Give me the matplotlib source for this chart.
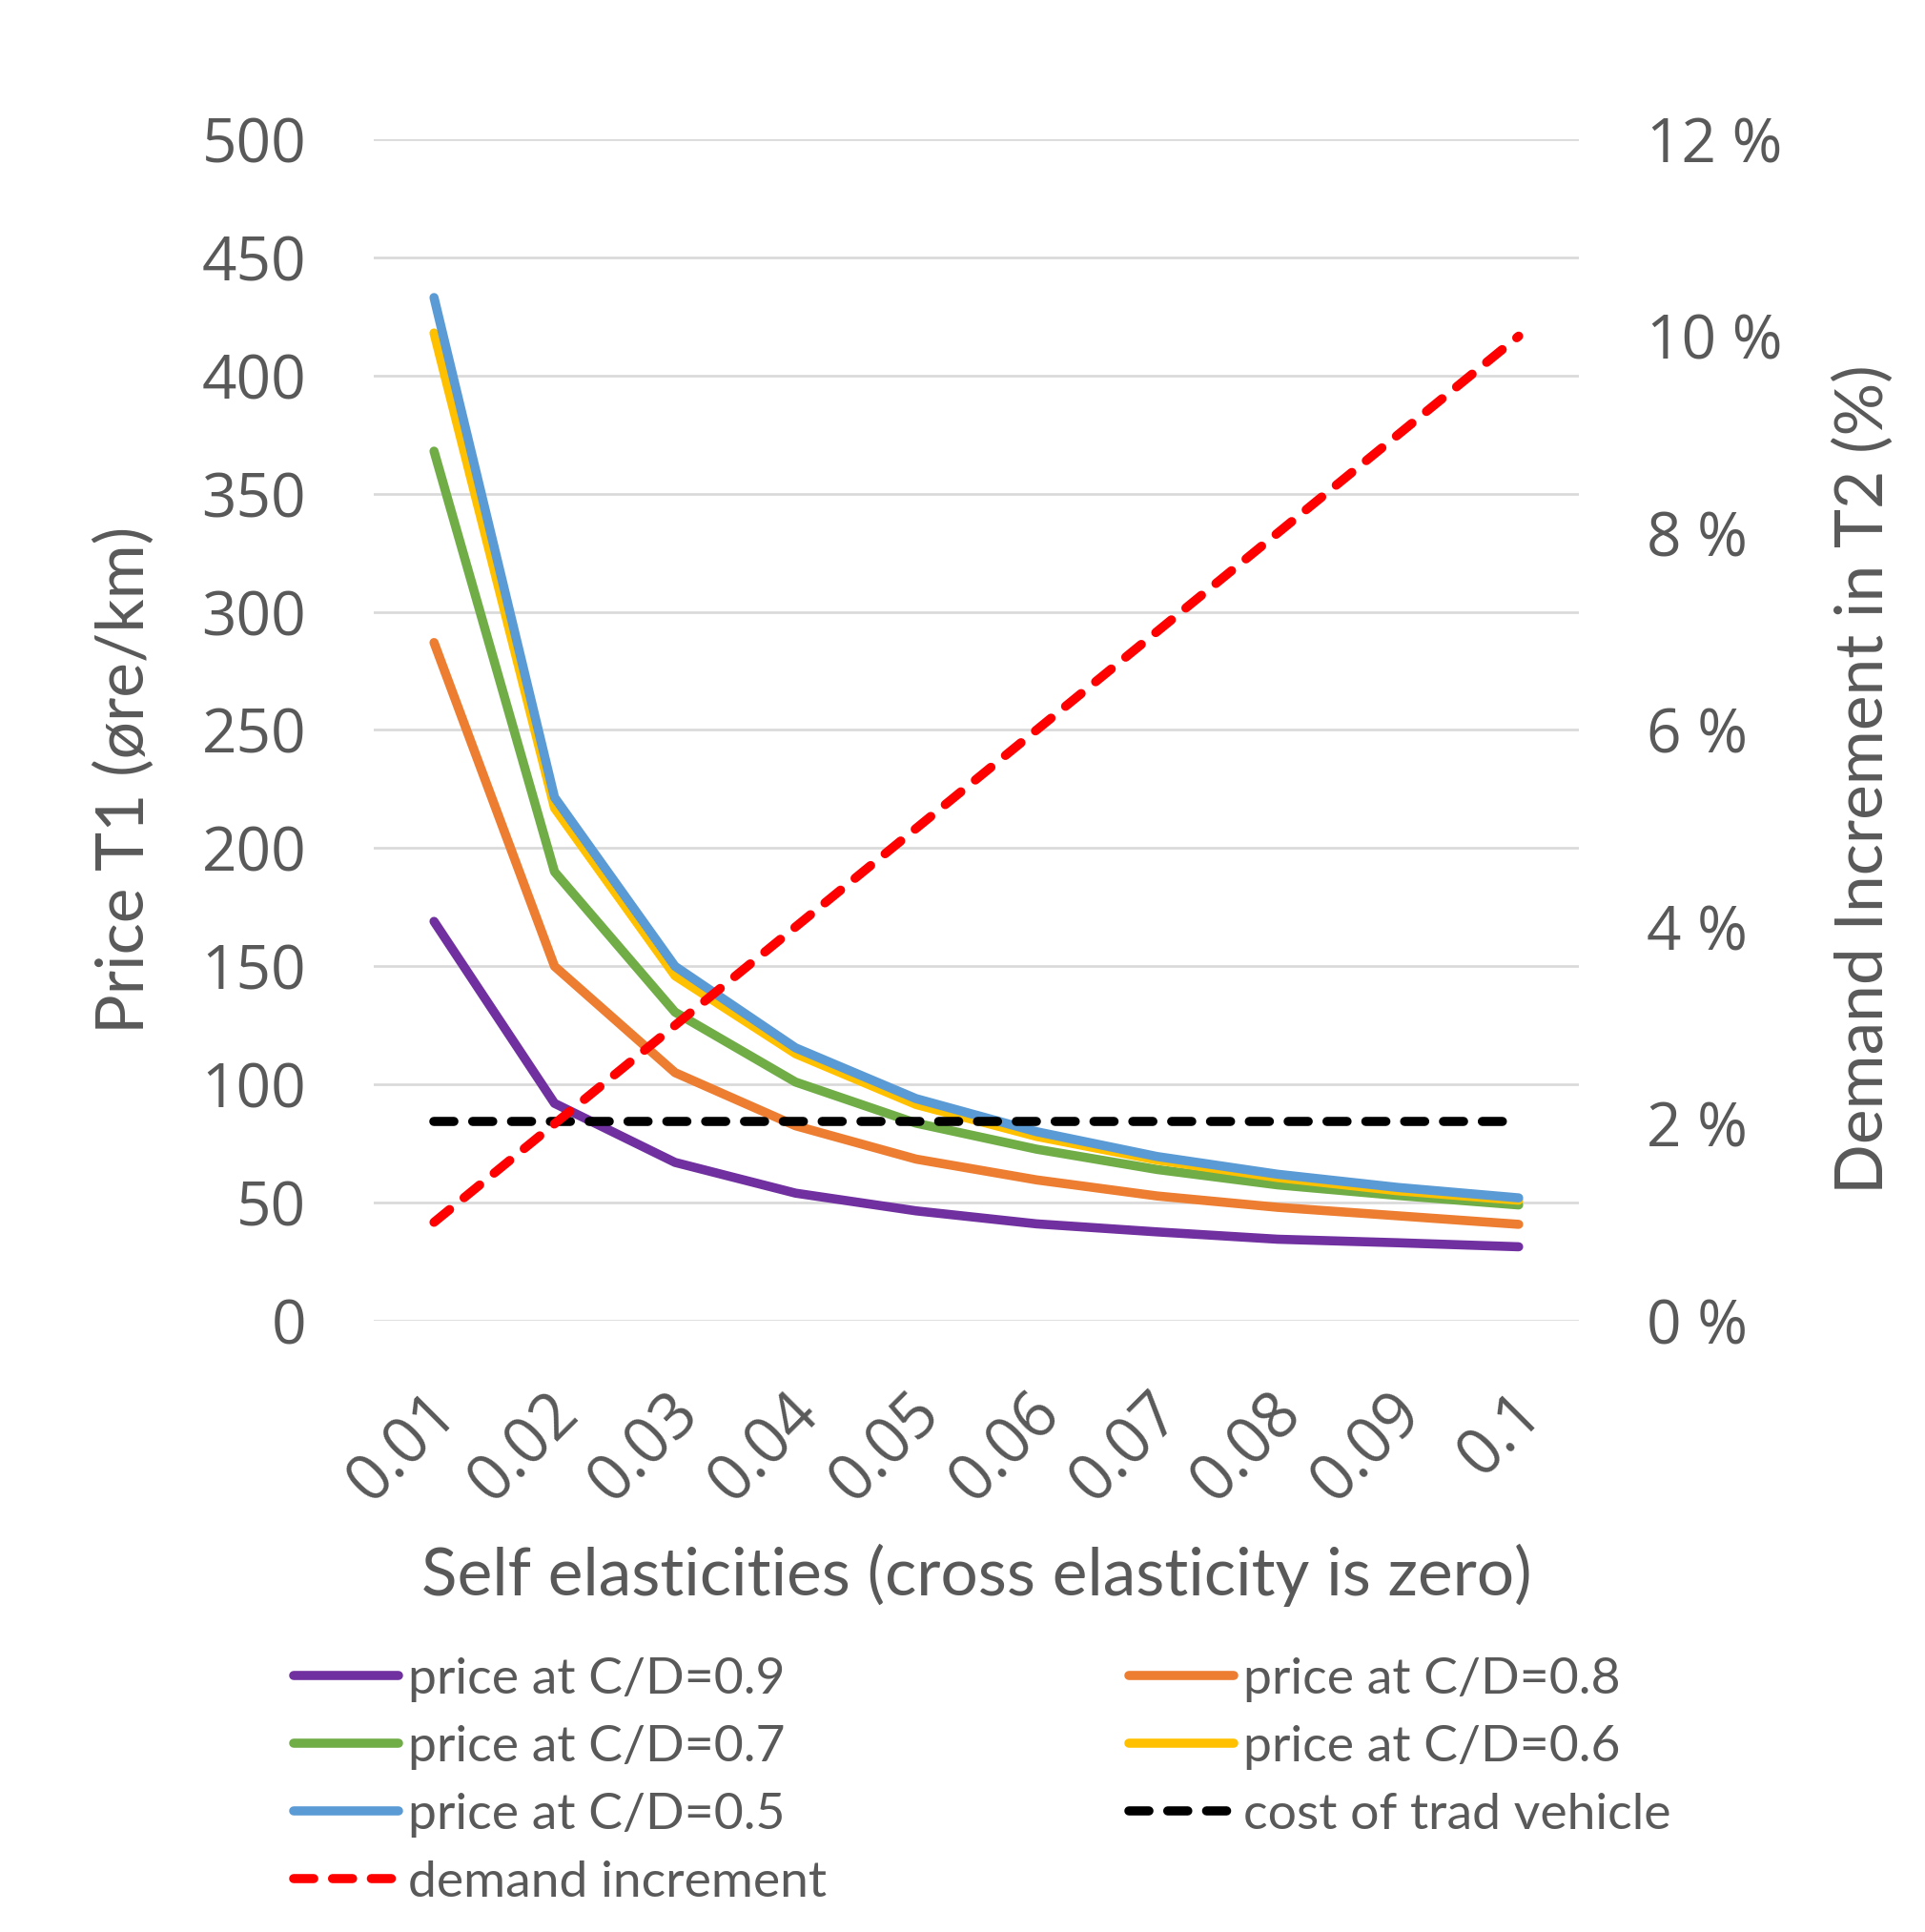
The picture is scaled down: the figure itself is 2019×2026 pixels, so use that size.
import matplotlib
matplotlib.use('Agg')
import matplotlib.pyplot as plt
from matplotlib.ticker import FuncFormatter, MultipleLocator
from matplotlib.transforms import ScaledTranslation

elasticities = ['0.01', '0.02', '0.03', '0.04', '0.05', '0.06', '0.07', '0.08', '0.09', '0.1']

price_cd09 = [169, 92, 67, 54, 46.5, 41, 37.6, 34.5, 33, 31.3]
price_cd08 = [287, 150, 105, 82.5, 68.4, 59.6, 52.8, 48, 44.4, 40.8]
price_cd07 = [368, 190, 130.6, 101, 83.6, 72.6, 64, 57.5, 53, 49]
price_cd06 = [418, 217, 146, 113, 91.5, 78, 68, 60.6, 55, 51]
price_cd05 = [433, 221.5, 150, 115.5, 94, 80, 69.5, 62, 56.4, 52]
trad_vehicle_cost = [84.5, 84.5, 84.5, 84.5, 84.5, 84.5, 84.5, 84.5, 84.5, 84.5]
demand_increment = [0.01, 0.02, 0.03, 0.04, 0.05, 0.06, 0.07, 0.08, 0.09, 0.10]

TEXT = '#595959'
NARROW = ['Lato', 'DejaVu Sans']
TICKFONT = ['Open Sans', 'DejaVu Sans']

W, H = 2019, 2026
fig = plt.figure(figsize=(W / 100, H / 100), dpi=100)
ax = fig.add_axes([392 / W, 1 - 1385 / H, (1656 - 392) / W, (1385 - 146) / H])
ax2 = ax.twinx()

x = range(len(elasticities))
lw = 6.9
solid = dict(linewidth=lw, solid_capstyle='round', solid_joinstyle='round')
dashed = dict(linewidth=lw, dashes=(2.2, 2.05), dash_capstyle='round')

ax.plot(x, price_cd09, color='#7030A0', label='price at C/D=0.9', **solid)
ax.plot(x, price_cd08, color='#ED7D31', label='price at C/D=0.8', **solid)
ax.plot(x, price_cd07, color='#70AD47', label='price at C/D=0.7', **solid)
ax.plot(x, price_cd06, color='#FFC000', label='price at C/D=0.6', **solid)
ax.plot(x, price_cd05, color='#5B9BD5', label='price at C/D=0.5', **solid)
ax.plot(x, trad_vehicle_cost, color='black', label='cost of trad vehicle', **dashed)
ax2.plot(x, demand_increment, color='#FF0000', label='demand increment', **dashed)

ax.set_xlim(-0.5, len(elasticities) - 0.5)
ax.set_ylim(0, 500)
ax.yaxis.set_major_locator(MultipleLocator(50))
ax2.set_ylim(0, 0.12)
ax2.yaxis.set_major_locator(MultipleLocator(0.02))
ax2.yaxis.set_major_formatter(FuncFormatter(lambda v, p: f'{v * 100:.0f} %'))

ax.grid(axis='y', color='#D9D9D9', linewidth=1.9)
ax.set_axisbelow(True)
for a in (ax, ax2):
    for s in a.spines.values():
        s.set_visible(False)
    a.tick_params(length=0, colors=TEXT, labelsize=46)

ax.tick_params(axis='y', pad=51)
ax2.tick_params(axis='y', pad=51)
ax.set_xticks(list(x))
ax.set_xticklabels(elasticities, rotation=45, ha='right', va='top',
                   rotation_mode='anchor', fontsize=48)
for lab in ax.get_yticklabels() + ax2.get_yticklabels() + ax.get_xticklabels():
    lab.set_family(TICKFONT)
for lab in ax.get_xticklabels():
    lab.set_transform(lab.get_transform() + ScaledTranslation(-0.09, -0.58, fig.dpi_scale_trans))

ax.set_xlabel('Self elasticities (cross elasticity is zero)', fontsize=50, color=TEXT, family=NARROW)
ax.xaxis.set_label_coords(0.5, -0.215)
ax.xaxis.label.set_va('center')
ax.set_ylabel('Price T1 (øre/km)', fontsize=50, color=TEXT, family=NARROW)
ax.yaxis.set_label_coords(-0.207, 0.458)
ax.yaxis.label.set_va('center')
ax2.set_ylabel('Demand Increment in T2 (%)', fontsize=50, color=TEXT, family=NARROW)
ax2.yaxis.set_label_coords(1.236, 0.458)
ax2.yaxis.label.set_va('center')

h1, l1 = ax.get_legend_handles_labels()
h2, l2 = ax2.get_legend_handles_labels()
handles = dict(zip(l1 + l2, h1 + h2))

# legend reads row-wise in the original, so split it into two columns by hand
left_keys = ['price at C/D=0.9', 'price at C/D=0.7', 'price at C/D=0.5', 'demand increment']
right_keys = ['price at C/D=0.8', 'price at C/D=0.6', 'cost of trad vehicle']

leg_opts = dict(loc='upper left', frameon=False, borderpad=0, borderaxespad=0,
                handlelength=2.05, handletextpad=0.2, labelspacing=0.45,
                prop={'family': NARROW, 'size': 38.5}, labelcolor=TEXT)
top = 1 - 1738 / H
fig.legend([handles[k] for k in left_keys], left_keys,
           bbox_to_anchor=(308 / W, top), **leg_opts)
fig.legend([handles[k] for k in right_keys], right_keys,
           bbox_to_anchor=(1184 / W, top), **leg_opts)

fig.savefig('out.png', dpi=100, facecolor='white')
